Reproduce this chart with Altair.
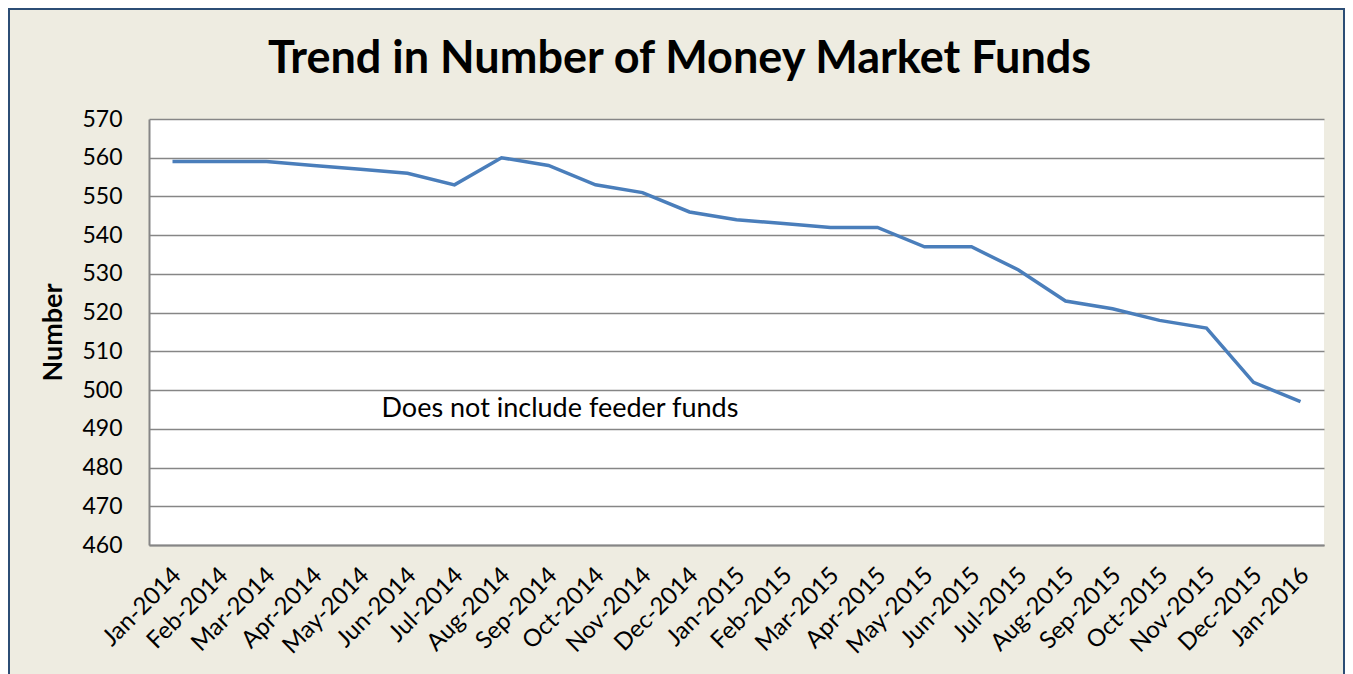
import altair as alt
import pandas as pd

months = ["Jan-2014", "Feb-2014", "Mar-2014", "Apr-2014", "May-2014", "Jun-2014",
          "Jul-2014", "Aug-2014", "Sep-2014", "Oct-2014", "Nov-2014", "Dec-2014",
          "Jan-2015", "Feb-2015", "Mar-2015", "Apr-2015", "May-2015", "Jun-2015",
          "Jul-2015", "Aug-2015", "Sep-2015", "Oct-2015", "Nov-2015", "Dec-2015",
          "Jan-2016"]
funds = [559, 559, 559, 558, 557, 556, 553, 560, 558, 553, 551, 546,
         544, 543, 542, 542, 537, 537, 531, 523, 521, 518, 516, 502, 497]
y_ticks = [460, 470, 480, 490, 500, 510, 520, 530, 540, 550, 560, 570]
note_text = ["Does not include feeder funds"]
note_month = ["May-2014"]
note_value = [495]

FONT = "Lato"
W, H = 1175, 426

df = pd.DataFrame({"month": months, "funds": funds})
note_df = pd.DataFrame({"month": note_month, "v": note_value, "t": note_text})
frame_df = pd.DataFrame({"a": [0]})

x_enc = alt.X(
    "month:O", sort=months,
    scale=alt.Scale(type="point", padding=0.5),
    axis=alt.Axis(title=None, labelAngle=-45, labelFont=FONT, labelFontSize=24,
                  labelColor="#000000", labelPadding=18, labelOffset=-4, ticks=False,
                  labelOverlap=False,
                  domainColor="#868686", domainWidth=2, grid=False),
)
y_enc = alt.Y(
    "funds:Q",
    scale=alt.Scale(domain=[460, 570], nice=False, zero=False),
    axis=alt.Axis(values=y_ticks, tickCount=20, labelOverlap=False,
                  title="Number", titleFont=FONT, titleFontSize=27,
                  titleFontWeight="bold", titleColor="#000000", titlePadding=14,
                  labelFont=FONT, labelFontSize=23, labelColor="#000000",
                  labelPadding=27, ticks=False, domainColor="#868686", domainWidth=2,
                  gridColor="#868686", gridWidth=1.6),
)

line = alt.Chart(df).mark_line(color="#4A7EBB", strokeWidth=3.5).encode(x=x_enc, y=y_enc)

note = alt.Chart(note_df).mark_text(
    align="left", baseline="middle", font=FONT, fontSize=27, color="#000000", dx=21
).encode(x=alt.X("month:O", sort=months), y=alt.Y("v:Q"), text="t:N")

frame = alt.Chart(frame_df).mark_rect(
    filled=False, stroke="#2C4D75", strokeWidth=2
).encode(
    x=alt.value(-140), x2=alt.value(W + 20),
    y=alt.value(-110), y2=alt.value(H + 200),
)

chart = alt.layer(line, note, frame).properties(
    width=W, height=H,
    title=alt.TitleParams(
        "Trend in Number of Money Market Funds", font=FONT, fontSize=45,
        fontWeight="bold", color="#000000", anchor="middle", frame="group",
        dx=-57, offset=-119, baseline="bottom",
    ),
    autosize=alt.AutoSizeParams(type="none"),
    padding={"left": 141, "top": 111, "right": 21, "bottom": 129},
    background="#EEECE1",
).configure_view(fill="#FFFFFF", strokeWidth=0)

chart.save("out.html", embed_options={"renderer": "svg", "actions": False})
